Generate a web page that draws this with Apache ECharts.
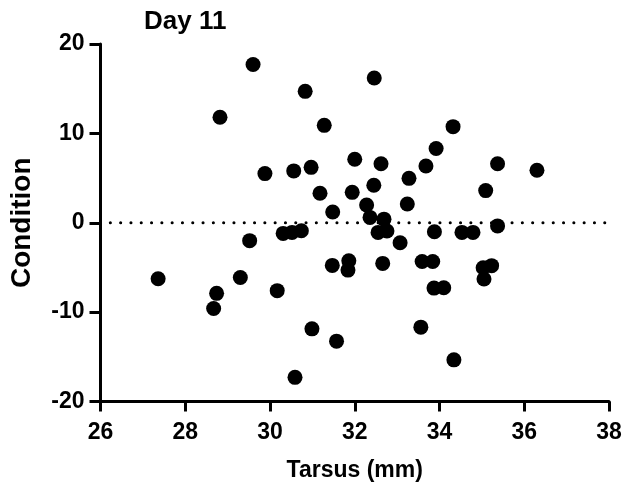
<!DOCTYPE html>
<html>
<head>
<meta charset="utf-8">
<script src="https://cdn.jsdelivr.net/npm/echarts@6/dist/echarts.min.js"></script>
<style>html,body{margin:0;padding:0;background:#fff}#c{width:627px;height:490px}</style>
</head>
<body>
<div id="c"></div>
<script>
const chartTitle = 'Day 11';
const xName = 'Tarsus (mm)';
const yName = 'Condition';
const xTicks = [26, 28, 30, 32, 34, 36, 38];
const yTicks = [-20, -10, 0, 10, 20];
const tarsus = [29.60, 30.83, 28.82, 31.28, 32.00, 29.88, 30.56, 30.97, 31.18, 31.94, 31.48, 32.46,
  34.32, 33.92, 32.62, 33.68, 35.37, 36.30, 33.28, 32.45, 35.09, 33.24, 32.28, 32.36, 32.69, 35.37,
  32.55, 32.76, 33.88, 34.53, 34.79, 33.07, 31.86, 31.84, 32.66, 33.59, 33.84, 35.03, 35.23, 35.05,
  33.87, 34.10, 33.56, 34.34, 29.52, 30.31, 30.52, 30.74, 27.36, 29.30, 28.74, 28.67, 30.17, 31.47,
  30.99, 31.57, 30.59];
const condition = [17.7, 14.7, 11.8, 10.9, 7.1, 5.5, 5.8, 6.2, 3.3, 3.4, 1.2, 16.2,
  10.75, 8.3, 6.6, 6.35, 6.6, 5.87, 4.97, 4.2, 3.6, 2.1, 1.98, 0.6, 0.4, -0.35,
  -1.08, -0.93, -1.0, -1.08, -1.08, -2.24, -4.25, -5.3, -4.55, -4.33, -4.33, -5.04, -4.8, -6.3,
  -7.31, -7.28, -11.68, -15.34, -2.0, -1.19, -1.08, -0.9, -6.27, -6.12, -7.9, -9.59, -7.6, -4.77,
  -11.87, -13.25, -17.3];
const refLineY = 0;

const points = tarsus.map((x, i) => [x, condition[i]]);
const font = '"Liberation Sans", Arial, sans-serif';

const chart = echarts.init(document.getElementById('c'), null, {renderer: 'canvas'});
chart.setOption({
  animation: false,
  backgroundColor: '#ffffff',
  title: {
    text: chartTitle, left: 139, top: 4,
    textStyle: {fontFamily: font, fontWeight: 'bold', fontSize: 26, color: '#000'}
  },
  grid: {left: 100.5, right: 18, top: 44, bottom: 88.5, containLabel: false, outerBoundsMode: 'none'},
  xAxis: {
    type: 'value', min: xTicks[0], max: xTicks[xTicks.length - 1], interval: 2,
    name: xName, nameLocation: 'middle', nameGap: 58,
    nameTextStyle: {fontFamily: font, fontWeight: 'bold', fontSize: 23, color: '#000'},
    axisLine: {show: true, onZero: false, lineStyle: {color: '#000', width: 3}},
    axisTick: {show: true, length: 10, lineStyle: {color: '#000', width: 3}},
    axisLabel: {margin: 20, fontFamily: font, fontWeight: 'bold', fontSize: 23, color: '#000'},
    splitLine: {show: false}
  },
  yAxis: {
    type: 'value', min: yTicks[0], max: yTicks[yTicks.length - 1], interval: 10,
    name: yName, nameLocation: 'middle', nameGap: 64,
    nameTextStyle: {fontFamily: font, fontWeight: 'bold', fontSize: 28, color: '#000'},
    axisLine: {show: true, onZero: false, lineStyle: {color: '#000', width: 3}},
    axisTick: {show: true, length: 11, lineStyle: {color: '#000', width: 3}},
    axisLabel: {margin: 16, fontFamily: font, fontWeight: 'bold', fontSize: 23, color: '#000'},
    splitLine: {show: false}
  },
  series: [
    {
      type: 'line',
      data: [[xTicks[0], refLineY], [xTicks[xTicks.length - 1], refLineY]],
      symbol: 'none', silent: true, z: 1,
      lineStyle: {color: '#000', width: 3, type: [0.1, 10.2], cap: 'round', dashOffset: -9.8}
    },
    {
      type: 'scatter',
      data: points,
      symbol: 'circle', symbolSize: 15, z: 3,
      itemStyle: {color: '#000', opacity: 1}
    }
  ]
});
</script>
</body>
</html>
